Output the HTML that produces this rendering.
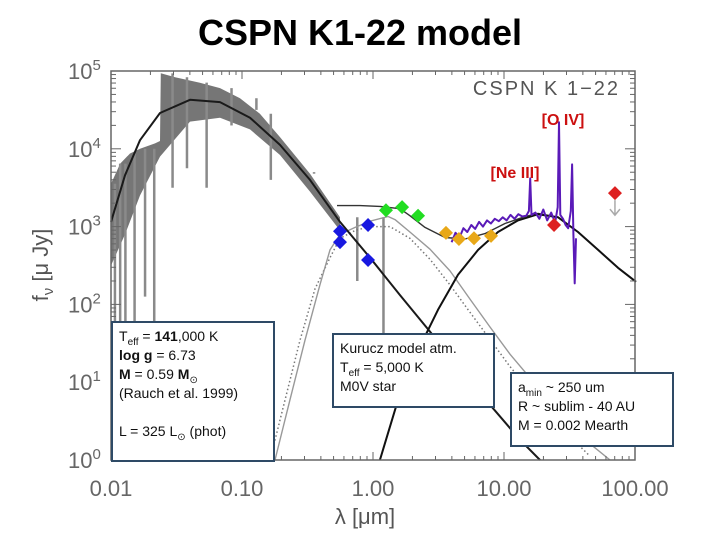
<!DOCTYPE html>
<html><head><meta charset="utf-8"><style>
body{margin:0;background:#fff;}
#wrap{position:relative;width:720px;height:540px;overflow:hidden;font-family:"Liberation Sans",sans-serif;}
.box{position:absolute;border:2px solid #2e4a66;background:#fff;font-size:14px;line-height:19px;color:#111;padding:4px 6px;box-sizing:border-box;}
sub{font-size:10px;line-height:0;}
</style></head><body>
<div id="wrap">
<div style="position:absolute;left:0;width:720px;top:12px;text-align:center;font-size:36px;font-weight:bold;">CSPN K1-22 model</div>
<svg id="svg" width="720" height="540" style="position:absolute;left:0;top:0"></svg>
<div class="box" style="left:111px;top:321px;width:164px;height:141px;">T<sub>eff</sub> = <b>141</b>,000 K<br><b>log g</b> = 6.73<br><b>M</b> = 0.59 <b>M</b><sub>⊙</sub><br>(Rauch et al. 1999)<br><br>L = 325 L<sub>⊙</sub> (phot)</div>
<div class="box" style="left:332px;top:333px;width:163px;height:75px;">Kurucz model atm.<br>T<sub>eff</sub> = 5,000 K<br>M0V star</div>
<div class="box" style="left:510px;top:372px;width:164px;height:75px;">a<sub>min</sub> ~ 250 um<br>R ~ sublim - 40 AU<br>M = 0.002 Mearth</div>
</div>
<script>
// data (log10 lambda [um], log10 flux [uJy])
const hotLL=[-2.00,-1.893,-1.779,-1.626,-1.397,-1.168,-0.939,-0.710,-0.481,-0.252,-0.023,0.206,0.435,0.664,0.893,1.122,1.275];
const hotLF=[3.06,3.66,4.11,4.46,4.63,4.60,4.40,4.05,3.60,3.06,2.60,2.12,1.65,1.16,0.71,0.26,0.00];
const specTopLL=[-2.0,-1.93,-1.855,-1.779,-1.664,-1.626,-1.62,-1.511,-1.321,-1.168,-1.015,-0.863,-0.71,-0.481,-0.252];
const specTopLF=[3.55,3.81,3.94,4.00,4.07,4.10,4.97,4.92,4.85,4.78,4.65,4.45,4.15,3.68,3.12];
const specBotLL=[-0.252,-0.481,-0.71,-0.939,-1.168,-1.397,-1.626,-1.779,-1.893,-2.0];
const specBotLF=[2.95,3.45,3.92,4.25,4.40,4.35,3.9,3.4,2.9,2.5];
const absLL=[-1.97,-1.93,-1.89,-1.82,-1.74,-1.67,-1.53,-1.42,-1.27,-1.08,-0.89,-0.78,-0.45,-0.12,0.08];
const absLF=[0.0,0.0,0.5,0.25,2.1,1.5,3.5,3.75,3.5,4.3,4.5,3.6,3.7,2.3,1.6];
const starLL=[-0.748,-0.634,-0.519,-0.405,-0.328,-0.252,-0.137,-0.023,0.115,0.168,0.282,0.435,0.588,0.740,0.893,1.046,1.237,1.427,1.656,1.809];
const starLF=[0.00,0.77,1.54,2.25,2.70,2.90,2.99,3.07,3.13,3.09,2.93,2.71,2.43,2.07,1.71,1.36,0.98,0.59,0.21,0.00];
const dotLL=[-0.786,-0.672,-0.557,-0.443,-0.328,-0.252,-0.137,-0.023,0.130,0.282,0.435,0.588,0.740,0.893,1.046,1.237,1.427,1.656];
const dotLF=[0.00,0.77,1.54,2.20,2.60,2.85,2.95,3.00,3.00,2.85,2.58,2.25,1.90,1.55,1.20,0.82,0.43,0.05];
const totLL=[-0.275,-0.099,0.053,0.206,0.282,0.397,0.55,0.702,0.855,1.008,1.160,1.260,1.413,1.565,1.718,1.870,2.008];
const totLF=[3.27,3.27,3.26,3.23,3.14,2.99,2.86,2.84,2.91,3.04,3.13,3.17,3.12,2.93,2.70,2.47,2.29];
const dustLL=[0.053,0.191,0.344,0.496,0.649,0.802,0.954,1.107,1.260,1.413,1.565,1.718,1.870,2.008];
const dustLF=[0.00,0.77,1.41,1.93,2.38,2.70,2.93,3.08,3.16,3.12,2.93,2.70,2.47,2.29];
const irsLL=[0.60,0.63,0.66,0.69,0.72,0.75,0.78,0.81,0.84,0.87,0.90,0.93,0.96,0.99,1.02,1.05,1.08,1.11,1.14,1.17,1.19,1.20,1.21,1.24,1.27,1.30,1.33,1.36,1.39,1.41,1.42,1.43,1.45,1.47,1.49,1.51,1.52,1.53,1.54,1.55];
const irsLF=[2.80,2.92,2.86,2.98,2.93,3.02,2.97,3.06,3.00,3.08,3.04,3.10,3.07,3.12,3.08,3.15,3.10,3.16,3.13,3.14,3.20,3.62,3.15,3.18,3.10,3.22,3.08,3.18,3.05,3.25,4.34,3.15,3.10,3.02,2.98,3.20,3.80,2.90,2.27,2.85];
const blueLL=[-0.252,-0.252,-0.038,-0.038];const blueLF=[2.94,2.80,3.02,2.57];
const greenLL=[0.099,0.222,0.344];const greenLF=[3.21,3.25,3.14];
const orangeLL=[0.557,0.656,0.771,0.901];const orangeLF=[2.92,2.84,2.85,2.88];
const redLL=[1.382];const redLF=[3.02];
const limLL=[1.847];const limLF=[3.43];
const xTickVals=[-2,-1,0,1,2];const xTickLabels=["0.01","0.10","1.00","10.00","100.00"];
const yTickVals=[5,4,3,2,1,0];

const L=111,R=635,T=71,B=460;
const X=v=>L+(v+2)*(R-L)/4;
const Y=v=>B-v*(B-T)/5;
const NS="http://www.w3.org/2000/svg";
const svg=document.getElementById('svg');
function mk(t,a){const e=document.createElementNS(NS,t);for(const k in a)e.setAttribute(k,a[k]);svg.appendChild(e);return e;}
function pts(ll,lf){return ll.map((v,i)=>X(v).toFixed(1)+','+Y(lf[i]).toFixed(1)).join(' ');}
const specTopPts=pts(specTopLL,specTopLF);
const s=mk('polygon',{points:specTopPts+' '+pts(specBotLL,specBotLF),fill:'#5e5e5e',opacity:'0.85'});


absLL.forEach((v,i)=>{
 let f=specTopLF.reduce((a,_,j)=>specTopLL[j]<=v?specTopLF[j]:a,specTopLF[0]);
 const l=mk('line',{x1:X(v),x2:X(v),y1:Y(f),y2:Y(absLF[i]),stroke:'#8a8a8a','stroke-width':2.5});
 
 
});
function line(ll,lf,st,w,name,dash){const p=mk('polyline',{points:pts(ll,lf),fill:'none',stroke:st,'stroke-width':w,'stroke-linejoin':'round'});if(dash)p.setAttribute('stroke-dasharray',dash);
 
 
 return p;}
line(dotLL,dotLF,'#777',1.5,'kurucz-dotted-curve','1.5 2.5');
line(starLL,starLF,'#999',1.4,'kurucz-star-curve');
line(hotLL,hotLF,'#1a1a1a',2,'hot-star-blackbody');
line(totLL,totLF,'#333',1.4,'total-model-curve');
line(dustLL,dustLF,'#111',2,'dust-model-curve');
line(irsLL,irsLF,'#5a1ab8',2,'irs-spectrum');
function diam(ll,lf,c,name){ll.forEach((v,i)=>{const x=X(v),y=Y(lf[i]);const d=mk('polygon',{points:`${x},${y-7} ${x+7},${y} ${x},${y+7} ${x-7},${y}`,fill:c});
 
 });}
diam(blueLL,blueLF,'#1818e0','photometry-blue');
diam(greenLL,greenLF,'#22dd22','photometry-green');
diam(orangeLL,orangeLF,'#e8a818','photometry-orange');
diam(redLL,redLF,'#dd2020','photometry-red');
diam(limLL,limLF,'#dd2020','upper-limit-point');
limLL.forEach((v,i)=>{const x=X(v),y=Y(limLF[i]);const a=mk('path',{d:`M${x},${y+7}V${y+22}M${x-5},${y+16}L${x},${y+22}L${x+5},${y+16}`,stroke:'#aaa','stroke-width':1.5,fill:'none'});
 
 });
const fr=mk('rect',{x:L,y:T,width:R-L,height:B-T,fill:'none',stroke:'#666','stroke-width':1.5});


for(let d=-2;d<2;d++)for(let k=1;k<10;k++){const x=X(d+Math.log10(k));const h=k==1?8:4;
 mk('line',{x1:x,x2:x,y1:B,y2:B-h,stroke:'#666'});mk('line',{x1:x,x2:x,y1:T,y2:T+h,stroke:'#666'});}
for(let d=0;d<5;d++)for(let k=1;k<10;k++){const y=Y(d+Math.log10(k));const h=k==1?10:5;
 mk('line',{x1:L,x2:L+h,y1:y,y2:y,stroke:'#666'});mk('line',{x1:R,x2:R-h,y1:y,y2:y,stroke:'#666'});}
xTickVals.forEach((v,i)=>{const t=mk('text',{x:X(v),y:496,'text-anchor':'middle','font-size':22,fill:'#666','font-family':'Liberation Sans'});t.textContent=xTickLabels[i];
 
 });
yTickVals.forEach(v=>{const t=mk('text',{x:68,y:Y(v)+8,'font-size':22,fill:'#666','font-family':'Liberation Sans'});t.textContent='10';const e=mk('tspan',{dy:-9,'font-size':15});e.textContent=v;t.appendChild(e);
 
 });
const xl=mk('text',{x:365,y:524,'text-anchor':'middle','font-size':22,fill:'#555','font-family':'Liberation Sans'});xl.textContent='λ [μm]';


const yl=mk('text',{x:0,y:0,'text-anchor':'middle','font-size':22,fill:'#555','font-family':'Liberation Sans',transform:'translate(48,265) rotate(-90)'});
yl.textContent='f';
const ysub=document.createElementNS(NS,'tspan');ysub.setAttribute('dy','5');ysub.setAttribute('font-size','15');ysub.textContent='ν';yl.appendChild(ysub);
const yrest=document.createElementNS(NS,'tspan');yrest.setAttribute('dy','-5');yrest.textContent=' [μ Jy]';yl.appendChild(yrest);


const pl=mk('text',{x:620,y:95,'text-anchor':'end','font-size':20,fill:'#555','font-family':'Liberation Sans','letter-spacing':'2'});pl.textContent='CSPN K 1−22';


const o4=mk('text',{x:563,y:125,'text-anchor':'middle','font-size':16,'font-weight':'bold',fill:'#cc1010','font-family':'Liberation Sans'});o4.textContent='[O IV]';


const ne=mk('text',{x:515,y:178,'text-anchor':'middle','font-size':16,'font-weight':'bold',fill:'#cc1010','font-family':'Liberation Sans'});ne.textContent='[Ne III]';


</script>
</body></html>
